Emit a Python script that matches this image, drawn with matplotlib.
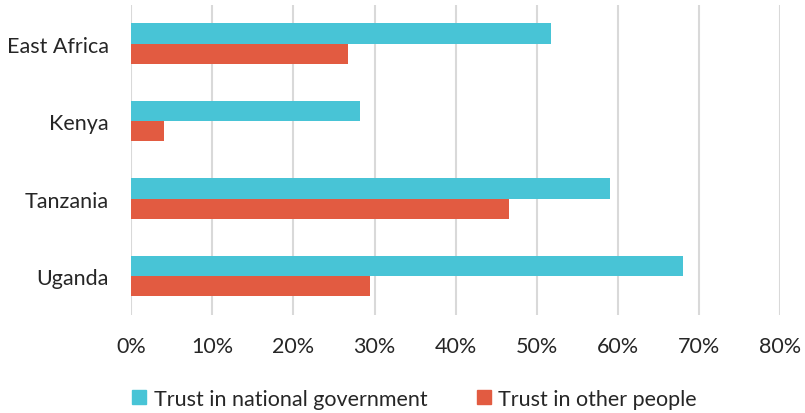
'''
Trust in government vs trust in other people, East Africa
'''

import matplotlib.pyplot as plt
import numpy as np
from matplotlib.patches import Patch
from matplotlib.ticker import PercentFormatter

plt.rcParams['font.family'] = ['Lato', 'DejaVu Sans']

# data
countries = ['East Africa', 'Kenya', 'Tanzania', 'Uganda']
trust_gov = [51.7, 28.2, 59.0, 68.0]
trust_people = [26.7, 4.0, 46.6, 29.4]
series_names = ['Trust in national government', 'Trust in other people']

teal = '#48C4D6'
red = '#E25B41'
txt = '#262626'

fig = plt.figure(figsize=(8.05, 4.14), dpi=100)
ax = fig.add_axes([0.163, 0.237, 0.806, 0.749])

y = np.arange(len(countries))
h = 0.26
ax.barh(y - h / 2, trust_gov, height=h, color=teal)
ax.barh(y + h / 2, trust_people, height=h, color=red)

ax.set_ylim(len(countries) - 0.5, -0.5)
ax.set_yticks(y)
ax.set_yticklabels(countries)
ax.set_xlim(0, 80)
ax.set_xticks(np.arange(0, 81, 10))
ax.xaxis.set_major_formatter(PercentFormatter(decimals=0))

ax.grid(axis='x', color='#D9D9D9', linewidth=1.5)
ax.set_axisbelow(True)
for s in ax.spines.values():
    s.set_visible(False)
ax.tick_params(length=0, labelsize=15.5, labelcolor=txt)
ax.tick_params(axis='y', pad=16)
ax.tick_params(axis='x', pad=15)

handles = [Patch(color=teal), Patch(color=red)]
leg = fig.legend(handles, series_names, loc='center left', bbox_to_anchor=(0.14, 0.035),
                 ncol=2, frameon=False, handlelength=0.65, handleheight=0.65,
                 handletextpad=0.35, columnspacing=2.3,
                 prop={'size': 15.5})
for t in leg.get_texts():
    t.set_color(txt)

fig.savefig('out.png', dpi=100)
